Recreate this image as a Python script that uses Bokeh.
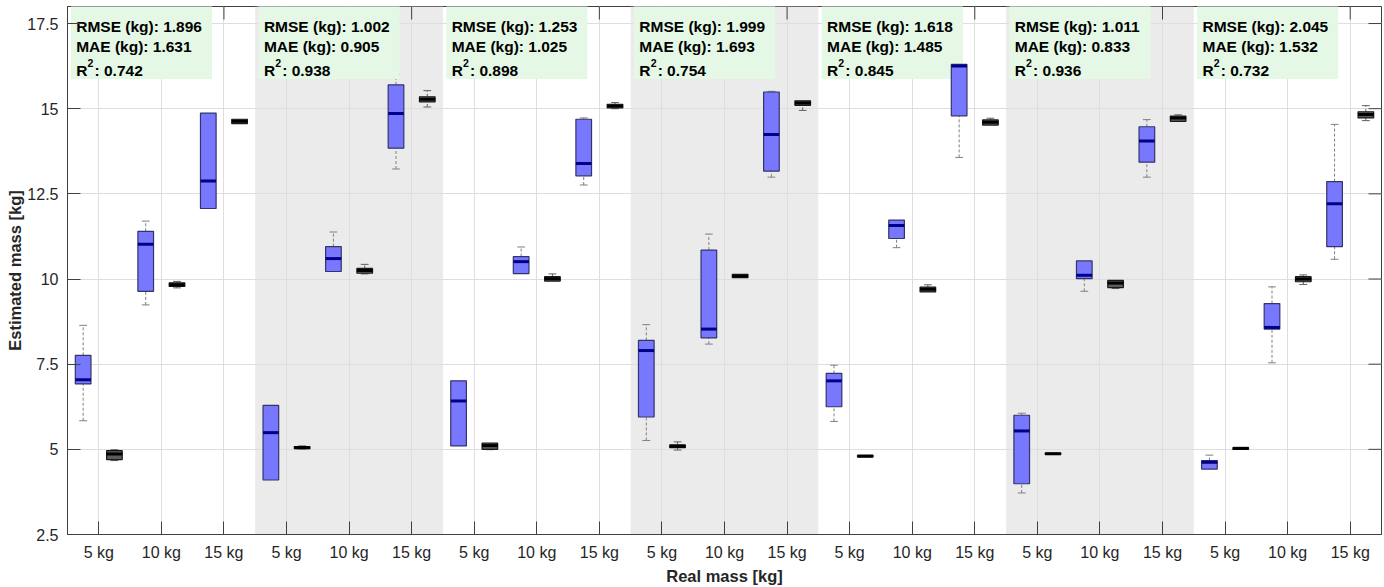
import math
from bokeh.plotting import figure
from bokeh.models import FixedTicker, NumeralTickFormatter
from bokeh.core.properties import value
from bokeh.embed import file_html
from bokeh.resources import INLINE

# ---------------- data ----------------
categories = ["5 kg", "10 kg", "15 kg"]
n_groups = 7
rmse = [1.896, 1.002, 1.253, 1.999, 1.618, 1.011, 2.045]
mae = [1.631, 0.905, 1.025, 1.693, 1.485, 0.833, 1.532]
r2 = [0.742, 0.938, 0.898, 0.754, 0.845, 0.936, 0.732]

# estimated (blue) boxes: per group, per category (5, 10, 15 kg)
est_lo = [5.84, 9.24, 12.07, 4.10, 10.22, 13.23, 5.10, 10.16, 12.76, 5.26, 8.09, 12.99,
          5.82, 10.92, 13.57, 3.72, 9.64, 12.99, 4.42, 7.54, 10.58]
est_q1 = [6.92, 9.64, 12.07, 4.10, 10.22, 13.84, 5.10, 10.16, 13.03, 5.95, 8.27, 13.17,
          6.25, 11.19, 14.79, 3.99, 10.01, 13.43, 4.42, 8.53, 10.95]
est_med = [7.04, 11.02, 12.88, 5.49, 10.60, 14.86, 6.42, 10.51, 13.39, 7.90, 8.53, 14.24,
           7.01, 11.57, 16.25, 5.54, 10.11, 14.05, 4.62, 8.58, 12.21]
est_q3 = [7.76, 11.40, 14.87, 6.29, 10.95, 15.70, 7.01, 10.66, 14.69, 8.20, 10.85, 15.49,
          7.23, 11.73, 16.30, 6.00, 10.53, 14.47, 4.67, 9.28, 12.86]
est_hi = [8.64, 11.70, 14.87, 6.29, 11.38, 16.00, 7.01, 10.94, 14.73, 8.66, 11.32, 15.51,
          7.47, 11.73, 16.30, 6.06, 10.53, 14.68, 4.83, 9.77, 14.54]

# reference (grey) boxes
ref_lo = [4.67, 9.74, 14.56, 5.01, 10.15, 15.05, 4.99, 9.94, 15.00, 4.98, 10.04, 14.95,
          4.78, 9.62, 14.52, 4.85, 9.72, 14.63, 5.00, 9.84, 14.65]
ref_q1 = [4.70, 9.78, 14.56, 5.02, 10.17, 15.20, 5.00, 9.94, 15.02, 5.05, 10.04, 15.10,
          4.78, 9.62, 14.52, 4.85, 9.75, 14.63, 5.00, 9.92, 14.73]
ref_med = [4.86, 9.83, 14.63, 5.05, 10.25, 15.28, 5.11, 10.01, 15.08, 5.09, 10.09, 15.17,
           4.80, 9.70, 14.60, 4.87, 9.88, 14.73, 5.03, 10.00, 14.83]
ref_q3 = [4.96, 9.89, 14.69, 5.08, 10.31, 15.35, 5.18, 10.07, 15.13, 5.13, 10.14, 15.23,
          4.82, 9.76, 14.67, 4.89, 9.96, 14.78, 5.05, 10.07, 14.91]
ref_hi = [4.99, 9.93, 14.69, 5.10, 10.43, 15.53, 5.18, 10.15, 15.18, 5.22, 10.14, 15.23,
          4.82, 9.83, 14.72, 4.89, 9.96, 14.82, 5.05, 10.12, 15.09]

y_ticks = [2.5, 5, 7.5, 10, 12.5, 15, 17.5]

# ---------------- figure ----------------
FONT = "Liberation Sans"
Y0, Y1 = 2.5, 18.0
X0, X1 = 0.5, 3 * n_groups + 0.5
p = figure(width=1384, height=587, x_range=(X0, X1), y_range=(Y0, Y1),
           output_backend="svg", toolbar_location=None,
           min_border_left=67, min_border_right=3, min_border_top=6, min_border_bottom=51)
p.background_fill_color = "white"
p.border_fill_color = "white"
p.outline_line_color = "#404040"

xc = [3 * g + k + 1 for g in range(n_groups) for k in range(len(categories))]
xticker = FixedTicker(ticks=xc, minor_ticks=[])
yticker = FixedTicker(ticks=y_ticks, minor_ticks=[])

AX = "#404040"
TICK_LEN = 13
for ax in (p.xaxis[0], p.yaxis[0]):
    ax.axis_line_color = AX
    ax.major_tick_line_color = AX
    ax.major_tick_in = TICK_LEN
    ax.major_tick_out = 0
    ax.minor_tick_line_color = None
    ax.major_label_text_font = FONT
    ax.major_label_text_font_size = "16px"
    ax.major_label_text_color = "#262626"
    ax.axis_label_text_font = FONT
    ax.axis_label_text_font_style = "bold"
    ax.axis_label_text_font_size = "16.5px"
    ax.axis_label_text_color = "#262626"

p.xaxis.ticker = xticker
p.xaxis.major_label_overrides = {x: categories[i % 3] for i, x in enumerate(xc)}
p.xaxis.major_label_standoff = 9
p.xaxis.axis_label = "Real mass [kg]"
p.xaxis.axis_label_standoff = 3
p.yaxis.ticker = yticker
p.yaxis.formatter = NumeralTickFormatter(format="0.[0]")
p.yaxis.axis_label = "Estimated mass [kg]"
p.yaxis.major_label_standoff = 9
p.yaxis.axis_label_standoff = 0

p.xgrid.ticker = xticker
p.ygrid.ticker = yticker
p.grid.grid_line_color = "#dedede"
p.grid.grid_line_width = 1

# shaded alternate groups
sh_l = [3 * g + 0.5 for g in range(n_groups) if g % 2 == 1]
sh_r = [3 * g + 3.5 for g in range(n_groups) if g % 2 == 1]
p.quad(left=sh_l, right=sh_r, bottom=Y0, top=Y1, fill_color="#ebebeb",
       line_color=None, level="image")

# top inward ticks (drawn under the annotation boxes)
p.ray(x=xc, y=[Y1] * len(xc), length=TICK_LEN, length_units="screen",
      angle=-math.pi / 2, line_color=AX, line_width=1)

BW = 0.25
OFF = 0.25
CAP = 0.0625


def whiskers(xs, lo, q1, q3, hi, color):
    sx, sy0, sy1, cx0, cx1, cy = [], [], [], [], [], []
    for x, a, b, c, d in zip(xs, lo, q1, q3, hi):
        if d - c > 0.005:
            sx.append(x); sy0.append(c); sy1.append(d)
            cx0.append(x - CAP); cx1.append(x + CAP); cy.append(d)
        if b - a > 0.005:
            sx.append(x); sy0.append(a); sy1.append(b)
            cx0.append(x - CAP); cx1.append(x + CAP); cy.append(a)
    p.segment(x0=sx, x1=sx, y0=sy0, y1=sy1, line_color=color, line_width=1,
              line_dash="3 2")
    p.segment(x0=cx0, x1=cx1, y0=cy, y1=cy, line_color=color, line_width=1)


xb = [x - OFF for x in xc]
xg = [x + OFF for x in xc]
whiskers(xb, est_lo, est_q1, est_q3, est_hi, "#808080")
whiskers(xg, ref_lo, ref_q1, ref_q3, ref_hi, "#606060")

# annotation boxes (green)
tb_l = [3 * g + 0.5 + 0.054 for g in range(n_groups)]
tb_r = [3 * g + 0.5 + 2.31 for g in range(n_groups)]
p.quad(left=tb_l, right=tb_r, bottom=15.87, top=Y1 + 0.03, fill_color="#e5f8e5",
       line_color=None)

# boxes
p.vbar(x=xb, width=BW, bottom=est_q1, top=est_q3, fill_color="#7878ff",
       line_color="#34346a", line_width=1.2)
p.segment(x0=[x - BW / 2 for x in xb], x1=[x + BW / 2 for x in xb], y0=est_med, y1=est_med,
          line_color="#000088", line_width=3)
p.vbar(x=xg, width=BW, bottom=ref_q1, top=ref_q3, fill_color="#5c5c5c",
       line_color="#1a1a1a", line_width=1.2)
p.segment(x0=[x - BW / 2 for x in xg], x1=[x + BW / 2 for x in xg], y0=ref_med, y1=ref_med,
          line_color="#000000", line_width=3)

# right inward ticks (on top)
rr = p.ray(x=[X1] * len(y_ticks), y=y_ticks, length=TICK_LEN, length_units="screen",
           angle=math.pi, line_color=AX, line_width=1)
rr.level = "annotation"

# annotation texts
tx = [3 * g + 0.5 + 0.139 for g in range(n_groups)]
common = dict(text_font=value(FONT), text_font_style="bold", text_font_size="15.5px",
              text_color="#000000", text_baseline="alphabetic", text_align="left")
p.text(x=tx, y=[17.415] * n_groups, text=[f"RMSE (kg): {v:.3f}" for v in rmse], **common)
p.text(x=tx, y=[16.83] * n_groups, text=[f"MAE (kg): {v:.3f}" for v in mae], **common)
p.text(x=tx, y=[16.127] * n_groups, text=["R"] * n_groups, **common)
p.text(x=tx, y=[16.127] * n_groups, text=["2"] * n_groups, x_offset=11.3, y_offset=-7.5,
       **{**common, "text_font_size": "10.5px"})
p.text(x=tx, y=[16.127] * n_groups, text=[f": {v:.3f}" for v in r2], x_offset=18.3, **common)

open("out.html", "w").write(file_html(p, INLINE))
